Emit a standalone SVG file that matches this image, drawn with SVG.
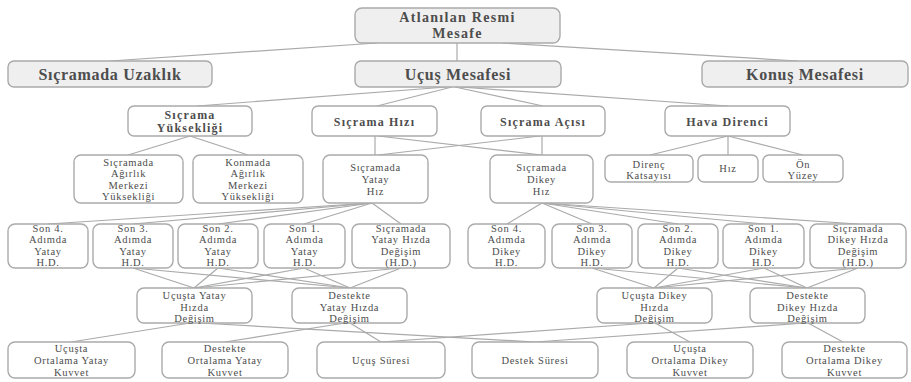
<svg xmlns="http://www.w3.org/2000/svg" width="911" height="382" viewBox="0 0 911 382">
<style>
rect{fill:#fff;stroke:#aaa;stroke-width:1.4}
rect.g{fill:#efefef}
text{font-family:"Liberation Serif","DejaVu Serif","Times New Roman",serif;fill:#4d4d4d;text-anchor:middle}
.t0{font-size:14px;font-weight:bold;letter-spacing:1.3px}
.t1{font-size:16px;font-weight:bold;letter-spacing:0.7px}
.t2{font-size:12px;font-weight:bold;letter-spacing:1.2px}
.t3{font-size:10.5px;letter-spacing:0.7px}
#edges line{stroke:#aaa;stroke-width:1.2}
</style>
<rect x="0" y="0" width="911" height="382" style="fill:#fff;stroke:none"/>
<g id="edges">
<line x1="377" y1="43" x2="110" y2="61"/>
<line x1="457" y1="43" x2="457" y2="61"/>
<line x1="502" y1="43" x2="798" y2="61"/>
<line x1="447" y1="87" x2="197" y2="106"/>
<line x1="452" y1="87" x2="377" y2="106"/>
<line x1="455" y1="87" x2="543" y2="106"/>
<line x1="460" y1="87" x2="728" y2="106"/>
<line x1="190" y1="136" x2="128" y2="155"/>
<line x1="190" y1="136" x2="248" y2="155"/>
<line x1="375" y1="136" x2="375" y2="155"/>
<line x1="378" y1="136" x2="542" y2="155"/>
<line x1="542" y1="136" x2="542" y2="155"/>
<line x1="540" y1="136" x2="378" y2="155"/>
<line x1="728" y1="136" x2="650" y2="155"/>
<line x1="728" y1="136" x2="728" y2="155"/>
<line x1="728" y1="136" x2="803" y2="155"/>
<line x1="372" y1="203" x2="48" y2="224"/>
<line x1="372" y1="203" x2="133" y2="224"/>
<line x1="372" y1="203" x2="218" y2="224"/>
<line x1="372" y1="203" x2="304" y2="224"/>
<line x1="372" y1="203" x2="401" y2="224"/>
<line x1="542" y1="203" x2="507" y2="224"/>
<line x1="542" y1="203" x2="592" y2="224"/>
<line x1="542" y1="203" x2="678" y2="224"/>
<line x1="542" y1="203" x2="764" y2="224"/>
<line x1="542" y1="203" x2="858" y2="224"/>
<line x1="133" y1="268" x2="194" y2="288"/>
<line x1="218" y1="268" x2="194" y2="288"/>
<line x1="304" y1="268" x2="194" y2="288"/>
<line x1="401" y1="268" x2="194" y2="288"/>
<line x1="133" y1="268" x2="350" y2="288"/>
<line x1="218" y1="268" x2="350" y2="288"/>
<line x1="304" y1="268" x2="350" y2="288"/>
<line x1="401" y1="268" x2="350" y2="288"/>
<line x1="592" y1="268" x2="654" y2="288"/>
<line x1="678" y1="268" x2="654" y2="288"/>
<line x1="764" y1="268" x2="654" y2="288"/>
<line x1="858" y1="268" x2="654" y2="288"/>
<line x1="592" y1="268" x2="807" y2="288"/>
<line x1="678" y1="268" x2="807" y2="288"/>
<line x1="764" y1="268" x2="807" y2="288"/>
<line x1="858" y1="268" x2="807" y2="288"/>
<line x1="190" y1="323" x2="71" y2="342"/>
<line x1="200" y1="323" x2="535" y2="342"/>
<line x1="345" y1="323" x2="225" y2="342"/>
<line x1="350" y1="323" x2="381" y2="342"/>
<line x1="650" y1="323" x2="381" y2="342"/>
<line x1="655" y1="323" x2="690" y2="342"/>
<line x1="805" y1="323" x2="535" y2="342"/>
<line x1="808" y1="323" x2="843" y2="342"/>
</g>
<g id="n1"><rect class="g" x="355" y="8" width="205" height="35" rx="7"/><text class="t0" x="457.5" y="21.5">Atlanılan Resmi</text><text class="t0" x="457.5" y="38">Mesafe</text></g>
<g id="n2"><rect class="g" x="8" y="61" width="204" height="26" rx="6"/><text class="t1" x="110" y="79.5">Sıçramada Uzaklık</text></g>
<g id="n3"><rect class="g" x="355" y="61" width="206" height="26" rx="6"/><text class="t1" x="458" y="79.5">Uçuş Mesafesi</text></g>
<g id="n4"><rect class="g" x="702" y="61" width="206" height="26" rx="6"/><text class="t1" x="805" y="79.5">Konuş Mesafesi</text></g>
<g id="n5"><rect x="128" y="106" width="124" height="30" rx="6"/><text class="t2" x="190" y="119">Sıçrama</text><text class="t2" x="190" y="131.5">Yüksekliği</text></g>
<g id="n6"><rect x="312" y="106" width="125" height="30" rx="6"/><text class="t2" x="374.5" y="125.5">Sıçrama Hızı</text></g>
<g id="n7"><rect x="481" y="106" width="124" height="30" rx="6"/><text class="t2" x="543" y="125.5">Sıçrama Açısı</text></g>
<g id="n8"><rect x="665" y="106" width="125" height="30" rx="6"/><text class="t2" x="727.5" y="125.5">Hava Direnci</text></g>
<g id="n9"><rect x="74" y="155" width="109" height="48" rx="7"/><text class="t3" x="128.5" y="165.5">Sıçramada</text><text class="t3" x="128.5" y="177">Ağırlık</text><text class="t3" x="128.5" y="188.5">Merkezi</text><text class="t3" x="128.5" y="200">Yüksekliği</text></g>
<g id="n10"><rect x="193" y="155" width="110" height="48" rx="7"/><text class="t3" x="248" y="165.5">Konmada</text><text class="t3" x="248" y="177">Ağırlık</text><text class="t3" x="248" y="188.5">Merkezi</text><text class="t3" x="248" y="200">Yüksekliği</text></g>
<g id="n11"><rect x="323" y="155" width="105" height="48" rx="7"/><text class="t3" x="375.5" y="170.5">Sıçramada</text><text class="t3" x="375.5" y="182.5">Yatay</text><text class="t3" x="375.5" y="194.5">Hız</text></g>
<g id="n12"><rect x="490" y="155" width="103" height="48" rx="7"/><text class="t3" x="541.5" y="170.5">Sıçramada</text><text class="t3" x="541.5" y="182.5">Dikey</text><text class="t3" x="541.5" y="194.5">Hız</text></g>
<g id="n13"><rect x="605" y="155" width="88" height="27" rx="6"/><text class="t3" x="649" y="168">Direnç</text><text class="t3" x="649" y="178.5">Katsayısı</text></g>
<g id="n14"><rect x="698" y="155" width="60" height="27" rx="6"/><text class="t3" x="728" y="172">Hız</text></g>
<g id="n15"><rect x="763" y="155" width="80" height="27" rx="6"/><text class="t3" x="803" y="168">Ön</text><text class="t3" x="803" y="178.5">Yüzey</text></g>
<g id="n16"><rect x="8" y="224" width="80" height="44" rx="7"/><text class="t3" x="48" y="231.5">Son 4.</text><text class="t3" x="48" y="243">Adımda</text><text class="t3" x="48" y="254.5">Yatay</text><text class="t3" x="48" y="266">H.D.</text></g>
<g id="n17"><rect x="93" y="224" width="80" height="44" rx="7"/><text class="t3" x="133" y="231.5">Son 3.</text><text class="t3" x="133" y="243">Adımda</text><text class="t3" x="133" y="254.5">Yatay</text><text class="t3" x="133" y="266">H.D.</text></g>
<g id="n18"><rect x="178" y="224" width="80" height="44" rx="7"/><text class="t3" x="218" y="231.5">Son 2.</text><text class="t3" x="218" y="243">Adımda</text><text class="t3" x="218" y="254.5">Yatay</text><text class="t3" x="218" y="266">H.D.</text></g>
<g id="n19"><rect x="264" y="224" width="81" height="44" rx="7"/><text class="t3" x="304.5" y="231.5">Son 1.</text><text class="t3" x="304.5" y="243">Adımda</text><text class="t3" x="304.5" y="254.5">Yatay</text><text class="t3" x="304.5" y="266">H.D.</text></g>
<g id="n20"><rect x="352" y="224" width="98" height="44" rx="7"/><text class="t3" x="401" y="231.5">Sıçramada</text><text class="t3" x="401" y="243">Yatay Hızda</text><text class="t3" x="401" y="254.5">Değişim</text><text class="t3" x="401" y="266">(H.D.)</text></g>
<g id="n21"><rect x="468" y="224" width="77" height="44" rx="7"/><text class="t3" x="506.5" y="231.5">Son 4.</text><text class="t3" x="506.5" y="243">Adımda</text><text class="t3" x="506.5" y="254.5">Dikey</text><text class="t3" x="506.5" y="266">H.D.</text></g>
<g id="n22"><rect x="552" y="224" width="80" height="44" rx="7"/><text class="t3" x="592" y="231.5">Son 3.</text><text class="t3" x="592" y="243">Adımda</text><text class="t3" x="592" y="254.5">Dikey</text><text class="t3" x="592" y="266">H.D.</text></g>
<g id="n23"><rect x="638" y="224" width="80" height="44" rx="7"/><text class="t3" x="678" y="231.5">Son 2.</text><text class="t3" x="678" y="243">Adımda</text><text class="t3" x="678" y="254.5">Dikey</text><text class="t3" x="678" y="266">H.D.</text></g>
<g id="n24"><rect x="723" y="224" width="81" height="44" rx="7"/><text class="t3" x="763.5" y="231.5">Son 1.</text><text class="t3" x="763.5" y="243">Adımda</text><text class="t3" x="763.5" y="254.5">Dikey</text><text class="t3" x="763.5" y="266">H.D.</text></g>
<g id="n25"><rect x="810" y="224" width="96" height="44" rx="7"/><text class="t3" x="858" y="231.5">Sıçramada</text><text class="t3" x="858" y="243">Dikey Hızda</text><text class="t3" x="858" y="254.5">Değişim</text><text class="t3" x="858" y="266">(H.D.)</text></g>
<g id="n26"><rect x="137" y="288" width="115" height="35" rx="7"/><text class="t3" x="194.5" y="298.5">Uçuşta Yatay</text><text class="t3" x="194.5" y="310.5">Hızda</text><text class="t3" x="194.5" y="322">Değişim</text></g>
<g id="n27"><rect x="292" y="288" width="115" height="35" rx="7"/><text class="t3" x="349.5" y="298.5">Destekte</text><text class="t3" x="349.5" y="310.5">Yatay Hızda</text><text class="t3" x="349.5" y="322">Değişim</text></g>
<g id="n28"><rect x="597" y="288" width="115" height="35" rx="7"/><text class="t3" x="654.5" y="298.5">Uçuşta Dikey</text><text class="t3" x="654.5" y="310.5">Hızda</text><text class="t3" x="654.5" y="322">Değişim</text></g>
<g id="n29"><rect x="750" y="288" width="115" height="35" rx="7"/><text class="t3" x="807.5" y="298.5">Destekte</text><text class="t3" x="807.5" y="310.5">Dikey Hızda</text><text class="t3" x="807.5" y="322">Değişim</text></g>
<g id="n30"><rect x="8" y="342" width="127" height="36" rx="7"/><text class="t3" x="71.5" y="351.5">Uçuşta</text><text class="t3" x="71.5" y="363.5">Ortalama Yatay</text><text class="t3" x="71.5" y="375.5">Kuvvet</text></g>
<g id="n31"><rect x="162" y="342" width="126" height="36" rx="7"/><text class="t3" x="225" y="351.5">Destekte</text><text class="t3" x="225" y="363.5">Ortalama Yatay</text><text class="t3" x="225" y="375.5">Kuvvet</text></g>
<g id="n32"><rect x="317" y="342" width="128" height="36" rx="7"/><text class="t3" x="381" y="363.5">Uçuş Süresi</text></g>
<g id="n33"><rect x="472" y="342" width="126" height="36" rx="7"/><text class="t3" x="535" y="363.5">Destek Süresi</text></g>
<g id="n34"><rect x="627" y="342" width="126" height="36" rx="7"/><text class="t3" x="690" y="351.5">Uçuşta</text><text class="t3" x="690" y="363.5">Ortalama Dikey</text><text class="t3" x="690" y="375.5">Kuvvet</text></g>
<g id="n35"><rect x="782" y="342" width="125" height="36" rx="7"/><text class="t3" x="844.5" y="351.5">Destekte</text><text class="t3" x="844.5" y="363.5">Ortalama Dikey</text><text class="t3" x="844.5" y="375.5">Kuvvet</text></g>
</svg>
